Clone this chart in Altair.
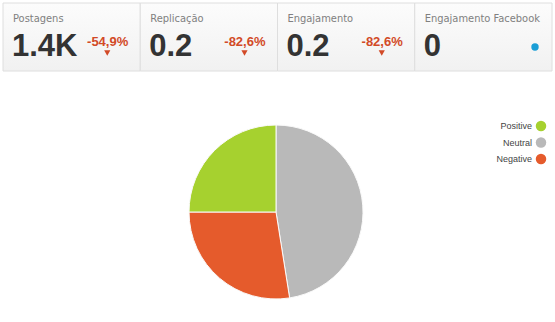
import altair as alt
import pandas as pd

# KPI cards
card_names = ["Postagens", "Replicação", "Engajamento", "Engajamento Facebook"]
card_values = ["1.4K", "0.2", "0.2", "0"]
card_changes = ["-54,9%", "-82,6%", "-82,6%", ""]

# Sentiment split (clockwise from 12 o'clock)
sentiments = ["Neutral", "Negative", "Positive"]
shares = [47.5, 27.5, 25.0]
legend_order = ["Positive", "Neutral", "Negative"]
sent_colors = {"Positive": "#a6d12f", "Neutral": "#b9b9b9", "Negative": "#e55b2c"}

cards = pd.DataFrame({"card": card_names, "value": card_values, "change": card_changes})
pie = pd.DataFrame({"sentiment": sentiments, "share": shares, "ord": list(range(len(sentiments)))})
leg = pd.DataFrame({"sentiment": legend_order})

narrow = "'DejaVu Sans Condensed', sans-serif"
x_card = alt.X("card:N", sort=card_names, axis=None,
               scale=alt.Scale(range=[3, 552], paddingInner=0, paddingOuter=0))
color = alt.Color("sentiment:N", legend=None,
                  scale=alt.Scale(domain=list(sent_colors), range=list(sent_colors.values())))

base = alt.Chart(cards)

card_bg = base.mark_rect(
    stroke="#dedede", strokeWidth=1,
    fill=alt.Gradient(gradient="linear", x1=0, y1=0, x2=0, y2=1,
                      stops=[alt.GradientStop(color="#fcfcfc", offset=0),
                             alt.GradientStop(color="#f1f1f1", offset=1)]),
).encode(x=x_card, y=alt.value(3), y2=alt.value(71))

card_title = base.mark_text(
    align="left", baseline="alphabetic", font=narrow, fontSize=11, color="#808080", dx=10
).encode(x=alt.X("card:N", sort=card_names, axis=None, bandPosition=0), y=alt.value(22), text="card:N")

card_value = base.mark_text(
    align="left", baseline="alphabetic", font="Liberation Sans", fontWeight="bold", fontSize=31,
    color="#333333", dx=9
).encode(x=alt.X("card:N", sort=card_names, axis=None, bandPosition=0), y=alt.value(56), text="value:N")

card_change = base.mark_text(
    align="right", baseline="alphabetic", font="Liberation Sans", fontWeight="bold",
    fontSize=13, color="#d24a27", dx=-12
).encode(x=alt.X("card:N", sort=card_names, axis=None, bandPosition=1), y=alt.value(46), text="change:N")

card_arrow = base.transform_filter("datum.change != ''").mark_point(
    shape="triangle-down", filled=True, size=38, color="#d24a27", opacity=1, xOffset=-33
).encode(x=alt.X("card:N", sort=card_names, axis=None, bandPosition=1), y=alt.value(53))

card_dot = base.transform_filter("datum.change == ''").mark_point(
    shape="circle", filled=True, size=55, color="#1a9ed6", opacity=1, xOffset=-17
).encode(x=alt.X("card:N", sort=card_names, axis=None, bandPosition=1), y=alt.value(47))

pie_arc = alt.Chart(pie).mark_arc(radius=87, stroke="#fafafa", strokeWidth=1).encode(
    theta=alt.Theta("share:Q", stack=True),
    order=alt.Order("ord:Q"),
    color=color,
    x=alt.value(276), y=alt.value(212),
)

y_leg = alt.Y("sentiment:N", sort=legend_order, axis=None,
              scale=alt.Scale(type="point", range=[126, 159], padding=0))

leg_pts = alt.Chart(leg).mark_point(shape="circle", filled=True, size=110, opacity=1).encode(
    x=alt.value(541), y=y_leg, color=color)

leg_txt = alt.Chart(leg).mark_text(
    align="right", baseline="middle", font="Liberation Sans", fontSize=9, color="#444444"
).encode(x=alt.value(532), y=y_leg, text="sentiment:N")

chart = alt.layer(
    card_bg, card_title, card_value, card_change, card_arrow, card_dot,
    pie_arc, leg_pts, leg_txt
).properties(
    width=555, height=322, autosize=alt.AutoSizeParams(type="none"), padding=0,
    background="white",
).configure_view(stroke=None, strokeWidth=0)

chart.save("out.html", embed_options={"renderer": "svg", "actions": False})
